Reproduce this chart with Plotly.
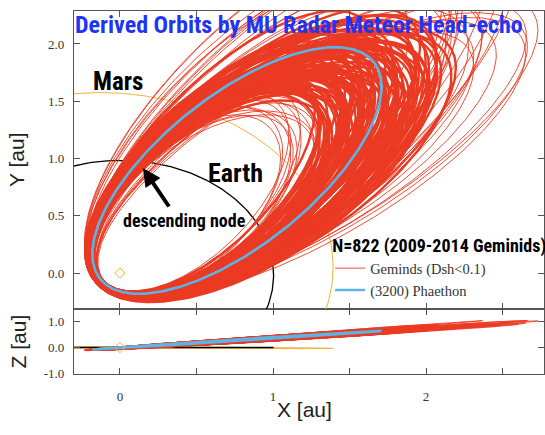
import numpy as np
import plotly.graph_objects as go

# ---------------- data (orbital elements, read/estimated from the figure) ----------------
# Representative Geminid meteoroid orbits: semi-major axis [au], perihelion distance [au],
# inclination [deg], argument of perihelion [deg], longitude of ascending node [deg]
gem_a = [0.90, 0.92, 0.94, 0.95, 0.96, 0.97, 0.98, 0.99, 1.00, 1.01, 1.02, 1.03,
         1.04, 1.04, 1.05, 1.06, 1.06, 1.07, 1.08, 1.08, 1.09, 1.09, 1.10, 1.10,
         1.11, 1.11, 1.12, 1.12, 1.13, 1.13, 1.14, 1.14, 1.15, 1.15, 1.16, 1.16,
         1.17, 1.17, 1.18, 1.18, 1.19, 1.19, 1.20, 1.20, 1.21, 1.21, 1.22, 1.22,
         1.22, 1.23, 1.23, 1.24, 1.24, 1.24, 1.25, 1.25, 1.26, 1.26, 1.26, 1.27,
         1.27, 1.28, 1.28, 1.28, 1.29, 1.29, 1.30, 1.30, 1.31, 1.31, 1.32, 1.32,
         1.32, 1.33, 1.33, 1.34, 1.34, 1.34, 1.35, 1.35, 1.36, 1.36, 1.36, 1.37,
         1.37, 1.38, 1.38, 1.38, 1.39, 1.39, 1.40, 1.40, 1.41, 1.41, 1.42, 1.43,
         1.43, 1.44, 1.44, 1.45, 1.45, 1.46, 1.47, 1.47, 1.48, 1.48, 1.49, 1.49,
         1.50, 1.51, 1.52, 1.52, 1.53, 1.54, 1.55, 1.56, 1.57, 1.58, 1.59, 1.60,
         1.62, 1.63, 1.65, 1.66, 1.68, 1.69, 1.71, 1.72, 1.74, 1.75, 1.77, 1.78,
         1.80, 1.81, 1.83, 1.84, 1.86, 1.88, 1.90, 1.92, 1.95, 1.98, 2.02, 2.06]
gem_q = [0.155, 0.14, 0.165, 0.15, 0.175, 0.145, 0.16, 0.135, 0.17, 0.155, 0.15, 0.18,
         0.155, 0.14, 0.165, 0.15, 0.175, 0.145, 0.16, 0.135, 0.17, 0.155, 0.15, 0.18,
         0.155, 0.14, 0.165, 0.15, 0.175, 0.145, 0.16, 0.135, 0.17, 0.155, 0.15, 0.18,
         0.155, 0.14, 0.165, 0.15, 0.175, 0.145, 0.16, 0.135, 0.17, 0.155, 0.15, 0.18,
         0.155, 0.14, 0.165, 0.15, 0.175, 0.145, 0.16, 0.135, 0.17, 0.155, 0.15, 0.18,
         0.155, 0.14, 0.165, 0.15, 0.175, 0.145, 0.16, 0.135, 0.17, 0.155, 0.15, 0.18,
         0.155, 0.14, 0.165, 0.15, 0.175, 0.145, 0.16, 0.135, 0.17, 0.155, 0.15, 0.18,
         0.155, 0.14, 0.165, 0.15, 0.175, 0.145, 0.16, 0.135, 0.17, 0.155, 0.15, 0.18,
         0.155, 0.14, 0.165, 0.15, 0.175, 0.145, 0.16, 0.135, 0.17, 0.155, 0.15, 0.18,
         0.155, 0.14, 0.165, 0.15, 0.175, 0.145, 0.16, 0.135, 0.17, 0.155, 0.15, 0.18,
         0.135, 0.16, 0.13, 0.165, 0.14, 0.155, 0.13, 0.17, 0.135, 0.16, 0.13, 0.165,
         0.14, 0.155, 0.13, 0.17, 0.135, 0.16, 0.13, 0.165, 0.15, 0.16, 0.15, 0.155]
gem_argp = [331.4, 331.0, 330.0, 329.8, 326.8, 331.5, 326.8, 332.3, 325.4, 330.0, 328.5, 324.9,
            329.0, 328.5, 327.3, 327.1, 326.5, 328.3, 326.7, 331.0, 323.8, 328.1, 326.6, 325.3,
            326.5, 329.0, 326.6, 326.0, 324.9, 326.9, 327.4, 328.8, 324.5, 327.5, 325.5, 323.9,
            325.1, 329.8, 324.3, 326.8, 324.4, 325.8, 326.0, 327.3, 325.3, 325.2, 326.3, 323.4,
            324.2, 328.4, 323.1, 327.6, 322.3, 326.8, 325.7, 326.5, 324.1, 324.0, 327.4, 321.4,
            325.2, 328.0, 322.2, 326.5, 321.2, 327.8, 323.7, 327.6, 323.8, 323.3, 326.2, 320.2,
            326.2, 326.1, 323.3, 326.2, 320.4, 326.6, 322.6, 328.6, 321.9, 324.4, 326.1, 319.5,
            325.1, 325.0, 324.4, 324.4, 321.5, 326.5, 321.9, 327.5, 320.8, 325.5, 324.1, 320.6,
            324.9, 324.3, 323.3, 323.2, 322.6, 324.5, 322.9, 327.3, 320.0, 324.3, 322.9, 321.7,
            322.9, 325.4, 323.0, 322.5, 321.4, 323.3, 323.9, 325.2, 321.0, 324.0, 322.1, 320.4,
            319.0, 327.5, 318.2, 328.2, 319.6, 326.8, 317.6, 328.8, 318.8, 327.2, 317.2, 329.4,
            318.4, 327.9, 316.8, 328.6, 319.2, 329.0, 317.9, 327.4, 326.5, 328.3, 325.9, 327.8]
gem_incl = [23.0, 21.8, 24.4, 22.6, 25.0, 21.4, 23.6, 22.2, 24.0, 25.4, 22.0,
            23.0, 21.8, 24.4, 22.6, 25.0, 21.4, 23.6, 22.2, 24.0, 25.4, 22.0,
            23.0, 21.8, 24.4, 22.6, 25.0, 21.4, 23.6, 22.2, 24.0, 25.4, 22.0,
            23.0, 21.8, 24.4, 22.6, 25.0, 21.4, 23.6, 22.2, 24.0, 25.4, 22.0,
            23.0, 21.8, 24.4, 22.6, 25.0, 21.4, 23.6, 22.2, 24.0, 25.4, 22.0,
            23.0, 21.8, 24.4, 22.6, 25.0, 21.4, 23.6, 22.2, 24.0, 25.4, 22.0,
            23.0, 21.8, 24.4, 22.6, 25.0, 21.4, 23.6, 22.2, 24.0, 25.4, 22.0,
            23.0, 21.8, 24.4, 22.6, 25.0, 21.4, 23.6, 22.2, 24.0, 25.4, 22.0,
            23.0, 21.8, 24.4, 22.6, 25.0, 21.4, 23.6, 22.2, 24.0, 25.4, 22.0,
            23.0, 21.8, 24.4, 22.6, 25.0, 21.4, 23.6, 22.2, 24.0, 25.4, 22.0,
            23.0, 21.8, 24.4, 22.6, 25.0, 21.4, 23.6, 22.2, 24.0, 25.4, 22.0,
            23.0, 21.8, 24.4, 22.6, 25.0, 21.4, 23.6, 22.2, 24.0, 25.4, 22.0,
            23.0, 21.8, 24.4, 22.6, 25.0, 21.4, 23.6, 22.2, 24.0, 25.4, 22.0,
            23.0]
gem_node = [261.5, 259.0, 264.0, 260.4, 265.0, 262.6, 258.2, 263.2, 260.0,
            261.5, 259.0, 264.0, 260.4, 265.0, 262.6, 258.2, 263.2, 260.0,
            261.5, 259.0, 264.0, 260.4, 265.0, 262.6, 258.2, 263.2, 260.0,
            261.5, 259.0, 264.0, 260.4, 265.0, 262.6, 258.2, 263.2, 260.0,
            261.5, 259.0, 264.0, 260.4, 265.0, 262.6, 258.2, 263.2, 260.0,
            261.5, 259.0, 264.0, 260.4, 265.0, 262.6, 258.2, 263.2, 260.0,
            261.5, 259.0, 264.0, 260.4, 265.0, 262.6, 258.2, 263.2, 260.0,
            261.5, 259.0, 264.0, 260.4, 265.0, 262.6, 258.2, 263.2, 260.0,
            261.5, 259.0, 264.0, 260.4, 265.0, 262.6, 258.2, 263.2, 260.0,
            261.5, 259.0, 264.0, 260.4, 265.0, 262.6, 258.2, 263.2, 260.0,
            261.5, 259.0, 264.0, 260.4, 265.0, 262.6, 258.2, 263.2, 260.0,
            261.5, 259.0, 264.0, 260.4, 265.0, 262.6, 258.2, 263.2, 260.0,
            261.5, 259.0, 264.0, 260.4, 265.0, 262.6, 258.2, 263.2, 260.0,
            261.5, 259.0, 264.0, 260.4, 265.0, 262.6, 258.2, 263.2, 260.0,
            261.5, 259.0, 264.0, 260.4, 265.0, 262.6, 258.2, 263.2, 260.0,
            261.5, 259.0, 264.0, 260.4, 265.0, 262.6, 258.2, 263.2, 260.0]

# (3200) Phaethon
phaethon_a, phaethon_q, phaethon_i, phaethon_argp, phaethon_node = 1.35, 0.14, 22.2, 322.2, 265.2
# Earth and Mars
earth_a, earth_e, earth_i, earth_argp, earth_node = 1.0, 0.0167, 0.0, 102.9, 0.0
mars_a, mars_e, mars_i, mars_argp, mars_node = 1.5237, 0.0934, 1.85, 286.5, 49.56

x_ticks = [0, 0.5, 1, 1.5, 2, 2.5]
x_ticktext = ["0", "", "1", "", "2", ""]
y_ticks = [0, 0.5, 1, 1.5, 2]
y_ticktext = ["0.0", "0.5", "1.0", "1.5", "2.0"]
z_ticks = [-1, 0, 1]
z_ticktext = ["-1.0", "0.0", "1.0"]


def orbit_xyz(a, e, inc, argp, node, n=241):
    E = np.linspace(0, 2 * np.pi, n)
    xo = a * (np.cos(E) - e)
    yo = a * np.sqrt(1 - e * e) * np.sin(E)
    i, w, O = np.radians([inc, argp, node])
    Px = np.cos(O) * np.cos(w) - np.sin(O) * np.sin(w) * np.cos(i)
    Py = np.sin(O) * np.cos(w) + np.cos(O) * np.sin(w) * np.cos(i)
    Pz = np.sin(w) * np.sin(i)
    Qx = -np.cos(O) * np.sin(w) - np.sin(O) * np.cos(w) * np.cos(i)
    Qy = -np.sin(O) * np.sin(w) + np.cos(O) * np.cos(w) * np.cos(i)
    Qz = np.cos(w) * np.sin(i)
    return xo * Px + yo * Qx, xo * Py + yo * Qy, xo * Pz + yo * Qz


RED = "#EB3A23"
BLUE = "#5BB4E6"
ORANGE = "#F3B23A"

# core of the stream drawn a little heavier than the sparse outliers
core = {"x": [], "y": [], "z": []}
tail = {"x": [], "y": [], "z": []}
for a, q, inc, w, O in zip(gem_a, gem_q, gem_incl, gem_argp, gem_node):
    X, Y, Z = orbit_xyz(a, 1 - q / a, inc, w, O)
    dst = core if 1.06 <= a <= 1.61 else tail
    dst["x"] += list(X) + [None]
    dst["y"] += list(Y) + [None]
    dst["z"] += list(Z) + [None]

px_, py_, pz_ = orbit_xyz(phaethon_a, 1 - phaethon_q / phaethon_a, phaethon_i,
                          phaethon_argp, phaethon_node, 361)
ex, ey, ez = orbit_xyz(earth_a, earth_e, earth_i, earth_argp, earth_node, 361)
mx, my, mz = orbit_xyz(mars_a, mars_e, mars_i, mars_argp, mars_node, 361)

fig = go.Figure()
for xa, ya, xs, ys in [("x2", "y2", mx, my), ("x", "y", mx, mz)]:
    fig.add_trace(go.Scatter(x=xs, y=ys, xaxis=xa, yaxis=ya, mode="lines",
                             line=dict(color=ORANGE, width=1), showlegend=False, hoverinfo="skip"))
for xa, ya, xs, ys in [("x2", "y2", ex, ey), ("x", "y", ex, ez)]:
    fig.add_trace(go.Scatter(x=xs, y=ys, xaxis=xa, yaxis=ya, mode="lines",
                             line=dict(color="black", width=1.3), showlegend=False, hoverinfo="skip"))

fig.add_trace(go.Scatter(x=tail["x"], y=tail["y"], xaxis="x2", yaxis="y2", mode="lines",
                         line=dict(color=RED, width=0.9), name="Geminds (Dsh&lt;0.1)",
                         hoverinfo="skip"))
fig.add_trace(go.Scatter(x=core["x"], y=core["y"], xaxis="x2", yaxis="y2", mode="lines",
                         line=dict(color=RED, width=2.4), showlegend=False, hoverinfo="skip"))
fig.add_trace(go.Scatter(x=tail["x"], y=tail["z"], xaxis="x", yaxis="y", mode="lines",
                         line=dict(color=RED, width=0.9), showlegend=False, hoverinfo="skip"))
fig.add_trace(go.Scatter(x=core["x"], y=core["z"], xaxis="x", yaxis="y", mode="lines",
                         line=dict(color=RED, width=1.5), showlegend=False, hoverinfo="skip"))
fig.add_trace(go.Scatter(x=px_, y=py_, xaxis="x2", yaxis="y2", mode="lines",
                         line=dict(color=BLUE, width=2.6), name="(3200) Phaethon",
                         hoverinfo="skip"))
fig.add_trace(go.Scatter(x=px_, y=pz_, xaxis="x", yaxis="y", mode="lines",
                         line=dict(color=BLUE, width=2.6), showlegend=False, hoverinfo="skip"))
for xa, ya in [("x2", "y2"), ("x", "y")]:
    fig.add_trace(go.Scatter(x=[0], y=[0], xaxis=xa, yaxis=ya, mode="markers",
                             marker=dict(symbol="diamond-open", size=8, color=ORANGE,
                                         line=dict(width=1)),
                             showlegend=False, hoverinfo="skip"))

axis_common = dict(showline=True, linecolor="#555", linewidth=1.2, mirror="allticks",
                   ticks="inside", ticklen=6, tickwidth=1.2, tickcolor="#555",
                   showgrid=False, zeroline=False,
                   tickfont=dict(family="Liberation Serif", size=13, color="#333"))

narrow = "Liberation Sans Narrow, Roboto Condensed, DejaVu Sans Condensed, sans-serif"

fig.update_layout(
    width=545, height=435,
    margin=dict(l=74, r=1, t=11, b=61, autoexpand=False),
    paper_bgcolor="white", plot_bgcolor="white",
    xaxis=dict(domain=[0, 1], anchor="y", range=[-0.30, 2.77], tickvals=x_ticks,
               ticktext=x_ticktext, ticklabelstandoff=10, **axis_common),
    xaxis2=dict(domain=[0, 1], anchor="y2", range=[-0.30, 2.77], matches="x",
                tickvals=x_ticks, showticklabels=False, **axis_common),
    yaxis=dict(domain=[0, 0.179], anchor="x", range=[-1.02, 1.48], tickvals=z_ticks,
               ticktext=z_ticktext, ticklabelstandoff=6, **axis_common),
    yaxis2=dict(domain=[0.179, 1], anchor="x2", range=[-0.314, 2.288], tickvals=y_ticks,
                ticktext=y_ticktext, ticklabelstandoff=6, **axis_common),
    legend=dict(x=0.545, y=0.40, xanchor="left", yanchor="top", bgcolor="rgba(0,0,0,0)",
                font=dict(family="Liberation Serif", size=14.5, color="#333"),
                title=dict(text="N=822 (2009-2014 Geminids)",
                           font=dict(family=narrow, size=18, color="black", weight="bold")),
                tracegroupgap=0),
    annotations=[
        dict(text="Derived Orbits by MU Radar Meteor Head-echo", xref="paper", yref="paper",
             x=0.479, y=0.962, xanchor="center", yanchor="middle", showarrow=False,
             font=dict(family=narrow, size=24, color="#1F35F2", weight="bold")),
        dict(text="Mars", xref="x2", yref="y2", x=-0.01, y=1.67, showarrow=False,
             xanchor="center", yanchor="middle",
             font=dict(family=narrow, size=25, color="black", weight="bold")),
        dict(text="Earth", xref="x2", yref="y2", x=0.755, y=0.87, showarrow=False,
             xanchor="center", yanchor="middle",
             font=dict(family=narrow, size=26, color="black", weight="bold")),
        dict(text="descending node", xref="x2", yref="y2", x=0.425, y=0.46, showarrow=False,
             xanchor="center", yanchor="middle",
             font=dict(family=narrow, size=18, color="black", weight="bold")),
        dict(text="", xref="x2", yref="y2", x=0.15, y=0.917, ax=0.327, ay=0.568,
             axref="x2", ayref="y2", showarrow=True, arrowhead=2, arrowsize=0.9,
             arrowwidth=4, arrowcolor="black"),
        dict(text="Y [au]", xref="paper", yref="paper", x=-0.121, y=0.59, textangle=-90,
             xanchor="center", yanchor="middle",
             showarrow=False, font=dict(family="Liberation Sans", size=21, color="#222")),
        dict(text="Z [au]", xref="paper", yref="paper", x=-0.119, y=0.09, textangle=-90,
             xanchor="center", yanchor="middle",
             showarrow=False, font=dict(family="Liberation Sans", size=21, color="#222")),
        dict(text="X [au]", xref="paper", yref="paper", x=0.49, y=-0.099,
             xanchor="center", yanchor="middle",
             showarrow=False, font=dict(family="Liberation Sans", size=21, color="#222")),
    ],
)

fig.write_html("out.html")
